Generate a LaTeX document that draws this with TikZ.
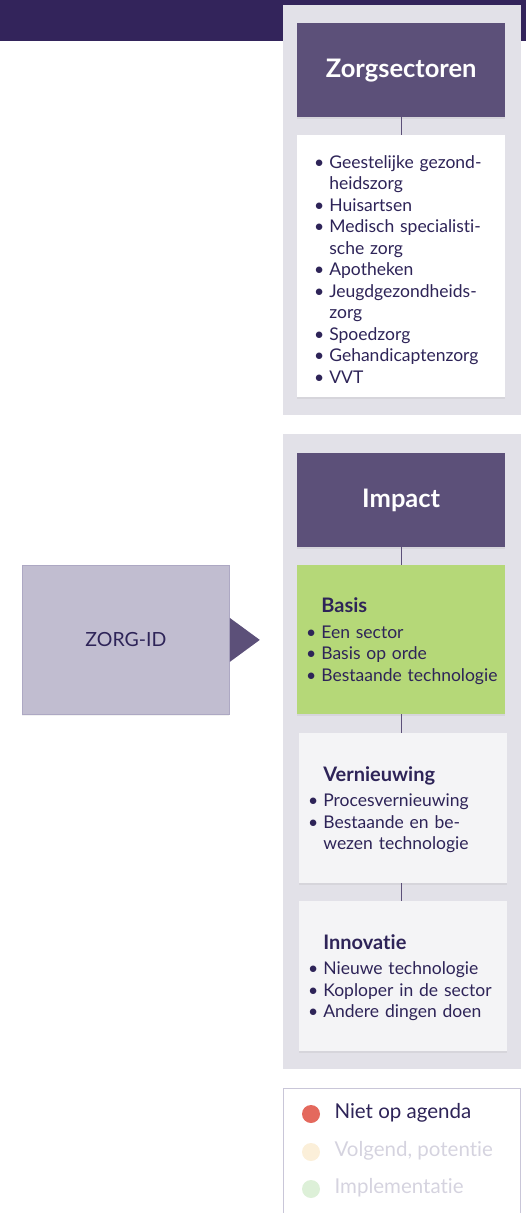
\documentclass[tikz,border=0pt]{standalone}
\usepackage{fontspec}
\setmainfont{Lato}[Ligatures=NoCommon]
\usepackage{xcolor}
\usepackage{tikz}
\usetikzlibrary{calc,shadows}

\definecolor{topbar}{HTML}{33245B}
\definecolor{panelgray}{HTML}{E2E1E8}
\definecolor{headpurple}{HTML}{5C5079}
\definecolor{inktext}{HTML}{2E2458}
\definecolor{basisgreen}{HTML}{B5D878}
\definecolor{lightbox}{HTML}{F4F4F6}
\definecolor{zorgfill}{HTML}{C1BDD0}
\definecolor{zorgline}{HTML}{ADA8C3}
\definecolor{legendline}{HTML}{C9C6D8}
\definecolor{dotred}{HTML}{E4695D}
\definecolor{dotyellow}{HTML}{FBEFD9}
\definecolor{dotgreen}{HTML}{DDF0D8}
\definecolor{fadedtext}{HTML}{D5D3DF}

\tikzstyle{panel} = [fill=panelgray,draw=none]
\tikzstyle{headbox} = [anchor=north west,fill=headpurple,text=white,minimum width=208pt,minimum height=94pt,inner sep=0pt,font=\fontsize{25.5}{29}\selectfont\bfseries,drop shadow={opacity=0.12,shadow xshift=0pt,shadow yshift=-1.5pt}]
\tikzstyle{listbox} = [anchor=north west,minimum width=208pt,inner xsep=9pt,inner ysep=0pt,text width=190pt,text=inktext,align=left,font=\fontsize{17.5}{21.5}\selectfont,drop shadow={opacity=0.12,shadow xshift=0pt,shadow yshift=-1.5pt}]
\tikzstyle{link} = [draw=headpurple,line width=1pt]
\tikzstyle{dot} = [circle,minimum size=18pt,inner sep=0pt]
\tikzstyle{legendtext} = [anchor=west,font=\fontsize{20.5}{24}\selectfont]

\newcommand{\bl}{\textbullet}

\begin{document}
\begin{tikzpicture}[x=1pt,y=-1pt]
		\useasboundingbox (0,0) rectangle (526,1213);
		% top bar and the two gray panels
		\fill[topbar] (0,0) rectangle (526,41);
		\path[panel] (283,5) rectangle (521,415);
		\path[panel] (283,434) rectangle (521,1069);

		% Zorgsectoren column
		\node[headbox] (sectorhead) at (297,23) {Zorgsectoren};
		\node[listbox,fill=white,minimum height=262pt,inner xsep=17pt,text width=174pt] (sectorlist) at (297,135) {%
			\begin{tabular}{@{}l@{\hspace{5pt}}l@{}}
			    & \\[-11pt]
			\bl & Geestelijke gezond-\\
			    & heidszorg\\
			\bl & Huisartsen\\
			\bl & Medisch specialisti-\\
			    & sche zorg\\
			\bl & Apotheken\\
			\bl & Jeugdgezondheids-\\
			    & zorg\\
			\bl & Spoedzorg\\
			\bl & Gehandicaptenzorg\\
			\bl & VVT
			\end{tabular}};
		\draw[link] (sectorhead) -- (sectorlist);

		% Impact column
		\node[headbox] (impacthead) at (297,453) {Impact};
		\node[listbox,fill=basisgreen,minimum height=149pt] (basis) at (297,565) {%
			\begin{tabular}{@{}l@{\hspace{5pt}}l@{}}
			& \\[-16pt]
			& {\fontsize{20}{21.5}\selectfont\bfseries Basis}\\[4pt]
			\bl & Een sector\\
			\bl & Basis op orde\\
			\bl & Bestaande technologie
			\end{tabular}};
		\node[listbox,fill=lightbox,minimum height=150pt] (vernieuwing) at (299,733) {%
			\begin{tabular}{@{}l@{\hspace{5pt}}l@{}}
			& \\[-16pt]
			& {\fontsize{20}{21.5}\selectfont\bfseries Vernieuwing}\\[4pt]
			\bl & Procesvernieuwing\\
			\bl & Bestaande en be-\\
			    & wezen technologie
			\end{tabular}};
		\node[listbox,fill=lightbox,minimum height=150pt] (innovatie) at (299,901) {%
			\begin{tabular}{@{}l@{\hspace{5pt}}l@{}}
			& \\[-16pt]
			& {\fontsize{20}{21.5}\selectfont\bfseries Innovatie}\\[4pt]
			\bl & Nieuwe technologie\\
			\bl & Koploper in de sector\\
			\bl & Andere dingen doen
			\end{tabular}};
		\draw[link] (impacthead) -- (basis);
		\draw[link] (basis.south) -- (basis.south |- vernieuwing.north);
		\draw[link] (vernieuwing.south -| basis.south) -- (basis.south |- innovatie.north);

		% ZORG-ID box with its pointer
		\node[anchor=north west,fill=zorgfill,draw=zorgline,line width=0.8pt,minimum width=207pt,minimum height=149pt,text=inktext,font=\fontsize{19.5}{22}\selectfont,drop shadow={opacity=0.1,shadow xshift=0pt,shadow yshift=-1.5pt}] (zorgid) at (22,565) {ZORG-ID};
		\fill[headpurple] ($(zorgid.east)+(0,-22)$) -- ($(zorgid.east)+(30,0)$) -- ($(zorgid.east)+(0,22)$) -- cycle;

		% legend
		\draw[legendline,line width=1pt] (283.5,1230) -- (283.5,1088) -- (520.5,1088) -- (520.5,1230);
		\node[dot,fill=dotred] (redDot) at (311,1114) {};
		\node[legendtext,text=inktext] (redText) at (331,1113) {Niet op agenda};
		\node[dot,fill=dotyellow] (yellowDot) at (311,1152) {};
		\node[legendtext,text=fadedtext] (yellowText) at (331,1151) {Volgend, potentie};
		\node[dot,fill=dotgreen] (greenDot) at (311,1189) {};
		\node[legendtext,text=fadedtext] (greenText) at (331,1188) {Implementatie};
\end{tikzpicture}
\end{document}
